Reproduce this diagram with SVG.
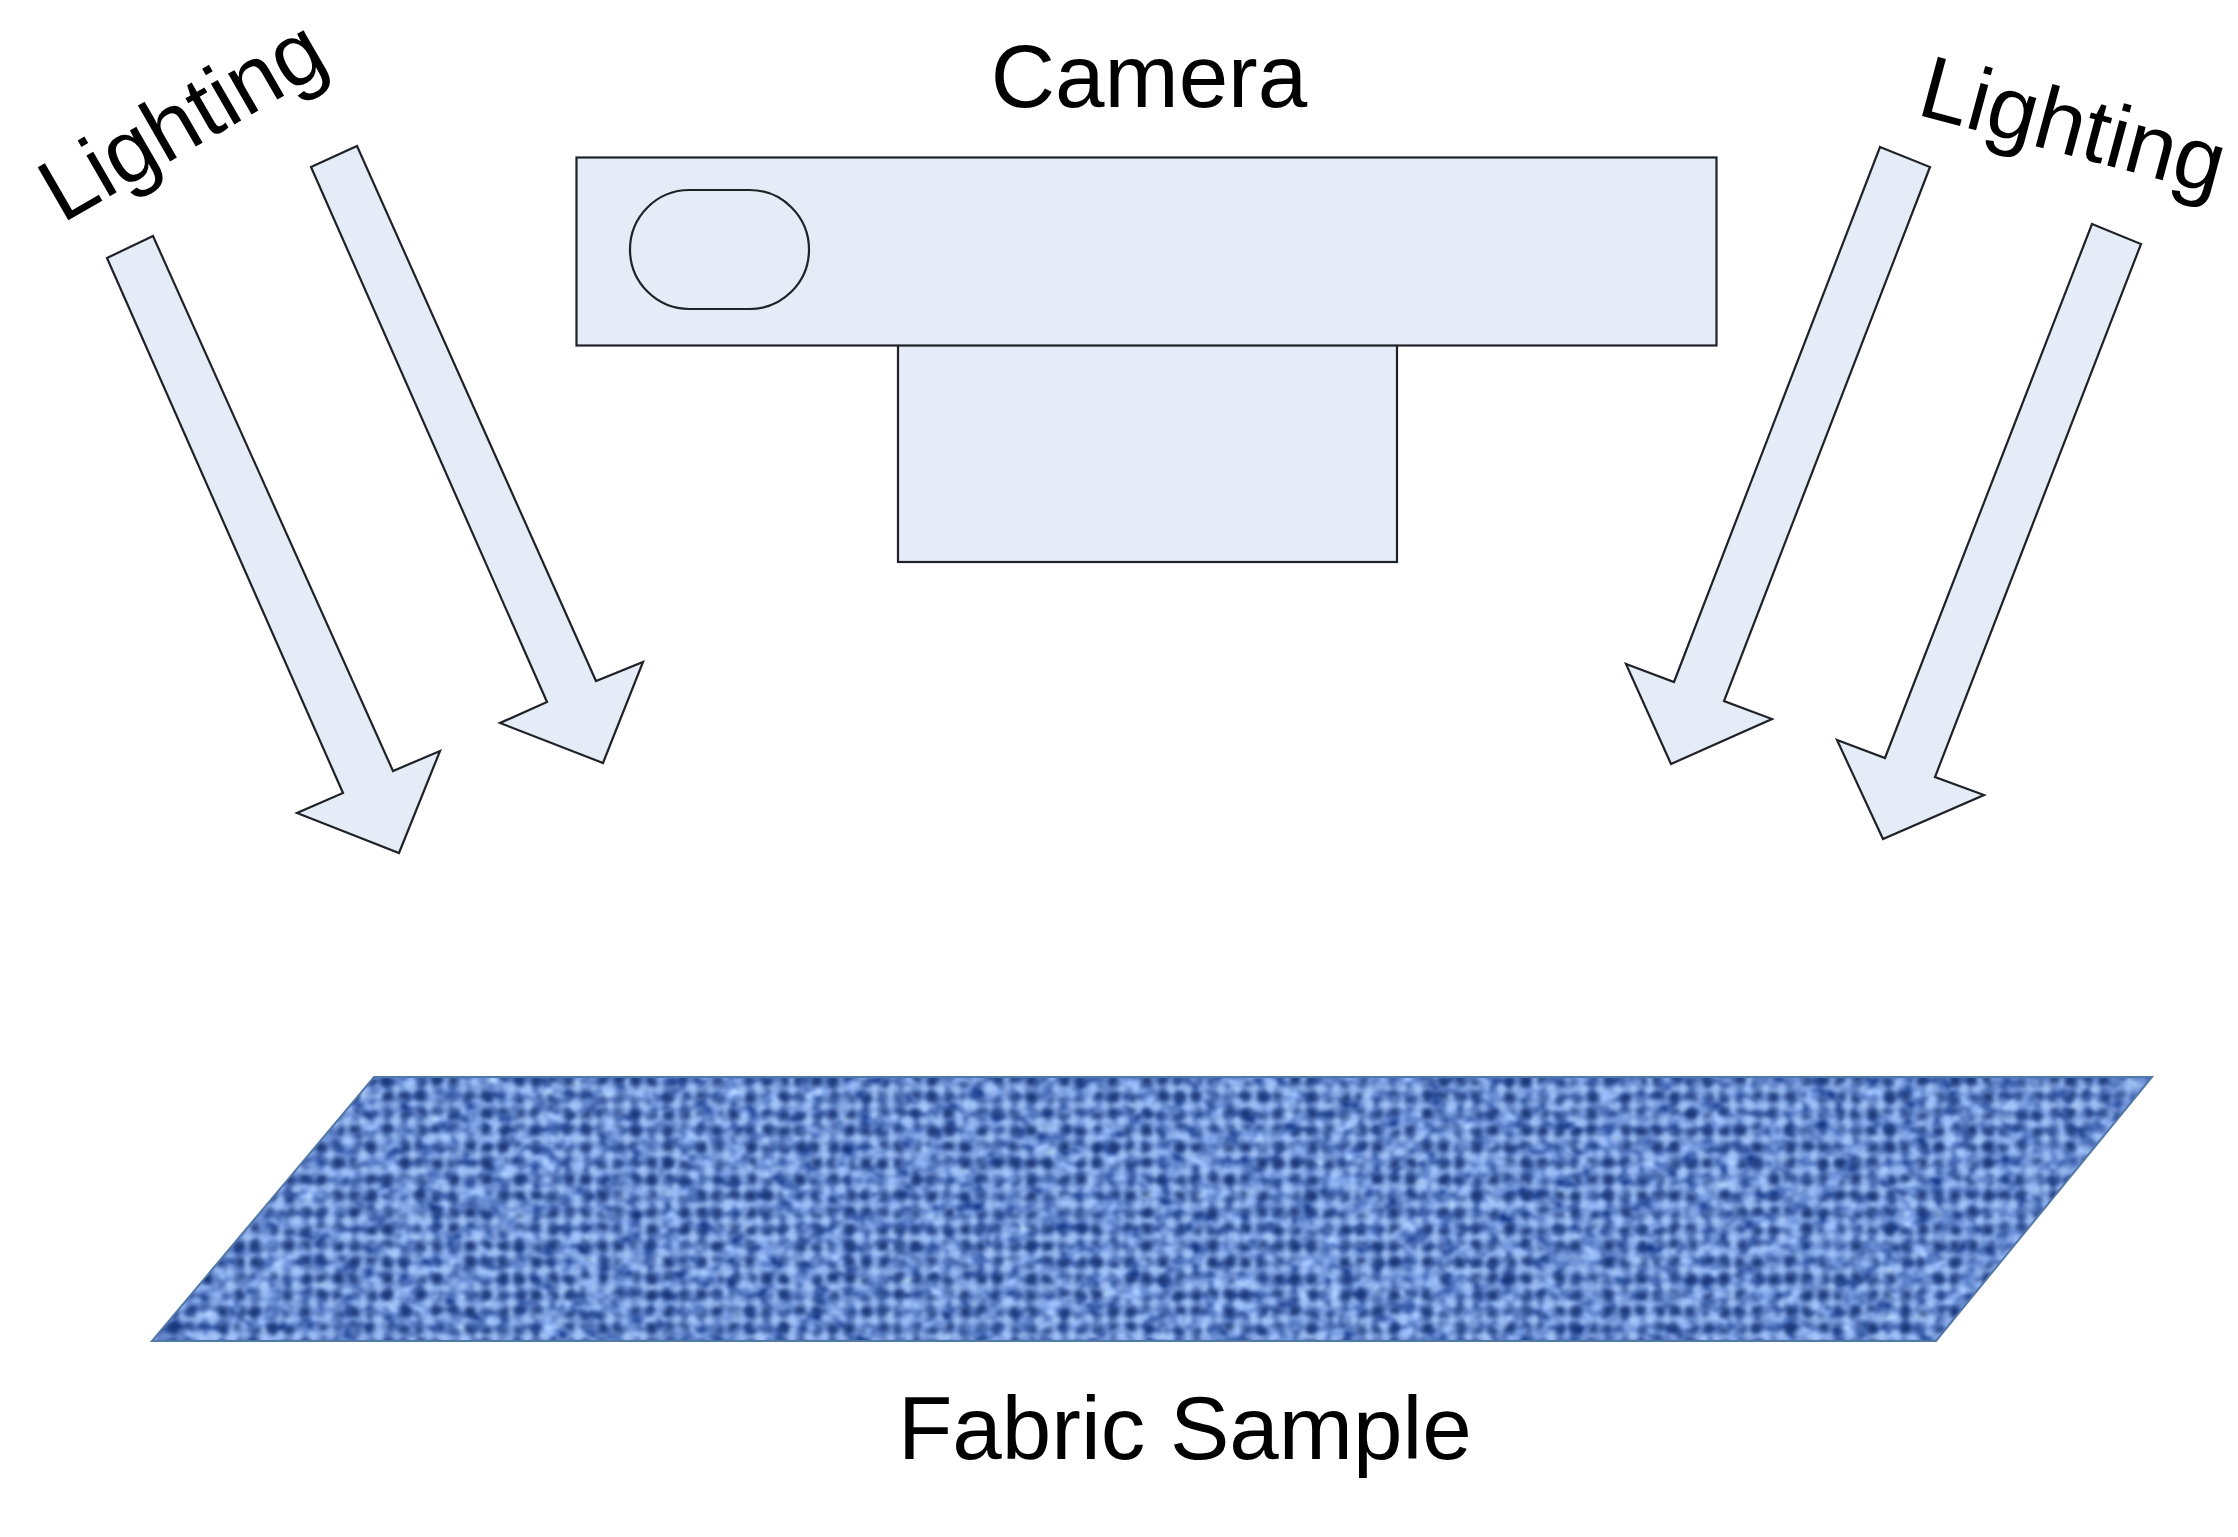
<svg xmlns="http://www.w3.org/2000/svg" width="2238" height="1537" viewBox="0 0 2238 1537">
<style>
.part{fill:#e6ecf7;stroke:#1f2226;stroke-width:2.200;stroke-linejoin:miter}
.label{font-family:"Liberation Sans",Arial,sans-serif;font-size:89px;fill:#000}
</style>
<defs>
<clipPath id="fabricClip"><polygon points="374,1077 2152,1077 1936,1341 152,1341"/></clipPath>
<pattern id="grid" width="16.500" height="16.500" patternUnits="userSpaceOnUse">
<rect x="3" y="3" width="10.500" height="10.500" fill="#000"/>
</pattern>
<filter id="weave" x="0" y="0" width="100%" height="100%" color-interpolation-filters="sRGB">
<feTurbulence type="fractalNoise" baseFrequency="0.07 0.09" numOctaves="2" seed="4" result="b"/>
<feColorMatrix in="b" type="matrix" values="0 0 1 0 -0.10  0 0 1 0 0.04  0 0 0.85 0 0.40  0 0 0 0 1" result="base"/>
<feGaussianBlur in="base" stdDeviation="1.5" result="baseSoft"/>
<feTurbulence type="fractalNoise" baseFrequency="0.05 0.07" numOctaves="3" seed="11" result="n"/>
<feColorMatrix in="n" type="matrix" values="0 0 0 0 0.10  0 0 0 0 0.21  0 0 0 0 0.46  6 0 0 0 -2.4" result="darkMask"/>
<feComposite in="darkMask" in2="SourceAlpha" operator="in" result="darkDots"/>
<feGaussianBlur in="darkDots" stdDeviation="2.6" result="dark"/>
<feOffset in="SourceAlpha" dx="8" dy="8" result="shifted"/>
<feColorMatrix in="n" type="matrix" values="0 0 0 0 0.65  0 0 0 0 0.78  0 0 0 0 0.98  0 6 0 0 -2.3" result="lightMask"/>
<feComposite in="lightMask" in2="shifted" operator="in" result="lightDots"/>
<feGaussianBlur in="lightDots" stdDeviation="2.8" result="light"/>
<feMerge><feMergeNode in="baseSoft"/><feMergeNode in="light"/><feMergeNode in="dark"/></feMerge>
</filter>
</defs>
<rect width="2238" height="1537" fill="#fff"/>
<g id="camera">
<rect class="part" x="898" y="345" width="499" height="217"/>
<rect class="part" x="576.500" y="157.500" width="1140" height="188"/>
<rect class="part" x="630" y="190" width="179" height="119" rx="59.500" ry="59.500"/>
<text class="label" x="1149" y="107" text-anchor="middle">Camera</text>
</g>
<g id="connectors">
<polygon class="part" points="107,258 153,236 393,771 440,751 399,853 297,813 343,793"/>
<polygon class="part" points="311,167 357,146 596,681 643,662 603,763 500,723 547,702"/>
<polygon class="part" points="1880,147 1930,167 1724,701 1772,719 1671,764 1626,664 1674,682"/>
<polygon class="part" points="2092,224 2141,244 1935,777 1984,795 1883,839 1837,740 1885,758"/>
</g>
<g id="lighting-left"><text class="label" transform="translate(62 224) rotate(-30)">Lighting</text></g>
<g id="lighting-right"><text class="label" transform="translate(1915 114) rotate(15)">Lighting</text></g>
<g id="fabric">
<g clip-path="url(#fabricClip)">
<rect x="140" y="1070" width="2020" height="280" fill="url(#grid)" filter="url(#weave)"/>
</g>
<polygon points="374,1077 2152,1077 1936,1341 152,1341" fill="none" stroke="#5278a8" stroke-width="2"/>
<text class="label" x="898" y="1459">Fabric Sample</text>
</g>
</svg>
